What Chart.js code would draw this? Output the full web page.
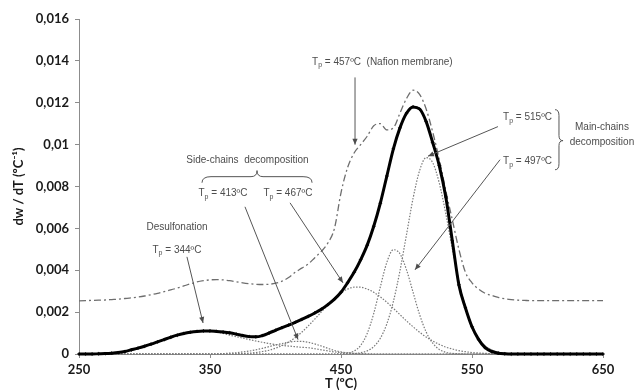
<!DOCTYPE html>
<html>
<head>
<meta charset="utf-8">
<script src="https://cdn.jsdelivr.net/npm/chart.js@4.4.0/dist/chart.umd.min.js"></script>
<style>
  html, body { margin: 0; padding: 0; background: #fff; }
  #wrap { width: 638px; height: 390px; position: relative; }
</style>
</head>
<body>
<div id="wrap"><canvas id="dtgChart"></canvas></div>
<script>
// temperature (ºC), 5 degree steps
const temps = [
    250, 255, 260, 265, 270, 275, 280, 285, 290, 295,
    300, 305, 310, 315, 320, 325, 330, 335, 340, 345,
    350, 355, 360, 365, 370, 375, 380, 385, 390, 395,
    400, 405, 410, 415, 420, 425, 430, 435, 440, 445,
    450, 455, 460, 465, 470, 475, 480, 485, 490, 495,
    500, 505, 510, 515, 520, 525, 530, 535, 540, 545,
    550, 555, 560, 565, 570, 575, 580, 585, 590, 595,
    600, 605, 610, 615, 620, 625, 630, 635, 640, 645,
    650
];

// measured dw/dT of the composite membrane
const measured = [
    0, 0, 0, 0.00001, 0.00002, 0.00004, 0.00007, 0.00012, 0.0002, 0.00028,
    0.00037, 0.00047, 0.00058, 0.00069, 0.0008, 0.0009, 0.00098, 0.00104, 0.00108, 0.0011,
    0.0011, 0.00108, 0.00105, 0.00101, 0.00095, 0.00088, 0.00083, 0.00082, 0.00088, 0.001,
    0.00113, 0.00126, 0.00138, 0.00151, 0.00165, 0.0018, 0.00196, 0.00214, 0.00236, 0.00262,
    0.00295, 0.0034, 0.0039, 0.0045, 0.0052, 0.0061, 0.0072, 0.0085, 0.0098, 0.0108,
    0.0115, 0.0118, 0.0117, 0.0111, 0.0101, 0.009, 0.0075, 0.0054, 0.0033, 0.0022,
    0.0013, 0.0007, 0.0003, 0.00012, 0.00004, 0.00001, 0, 0, 0, 0,
    0, 0, 0, 0, 0, 0, 0, 0, 0, 0,
    0
];

// sum of the fitted peaks
const fitted = [
    0, 0, 0, 0.00001, 0.00002, 0.00004, 0.00007, 0.00012, 0.0002, 0.00028,
    0.00037, 0.00047, 0.00058, 0.00069, 0.0008, 0.0009, 0.00098, 0.00104, 0.00108, 0.0011,
    0.0011, 0.00108, 0.00105, 0.00101, 0.00095, 0.00088, 0.00083, 0.00082, 0.00088, 0.001,
    0.00113, 0.00126, 0.00138, 0.00151, 0.00165, 0.0018, 0.00196, 0.00214, 0.00236, 0.00262,
    0.00295, 0.0034, 0.0039, 0.0045, 0.0052, 0.0061, 0.0072, 0.0085, 0.0098, 0.0108,
    0.0115, 0.0118, 0.0117, 0.0111, 0.0101, 0.009, 0.0075, 0.0054, 0.0034, 0.0023,
    0.00135, 0.00075, 0.0004, 0.0002, 0.00009, 0.00004, 0.00001, 0, 0, 0,
    0, 0, 0, 0, 0, 0, 0, 0, 0, 0,
    0
];

// plain Nafion membrane
const nafion = [
    0.00254, 0.00255, 0.00256, 0.00257, 0.00258, 0.0026, 0.00262, 0.00265, 0.00268, 0.00272,
    0.00277, 0.00283, 0.0029, 0.00298, 0.00306, 0.00315, 0.00325, 0.00335, 0.00344, 0.0035,
    0.00354, 0.00355, 0.00354, 0.0035, 0.00345, 0.0034, 0.00336, 0.00333, 0.00332, 0.00333,
    0.00338, 0.00348, 0.00365, 0.0039, 0.0041, 0.0043, 0.0046, 0.0049, 0.0053, 0.006,
    0.0077, 0.0089, 0.0096, 0.01, 0.0104, 0.0109, 0.011, 0.0107, 0.0108, 0.0115,
    0.0122, 0.0126, 0.0124, 0.0117, 0.0106, 0.0093, 0.0078, 0.0064, 0.005, 0.0039,
    0.0034, 0.0031, 0.0029, 0.0028, 0.0027, 0.00264, 0.0026, 0.00257, 0.00256, 0.00255,
    0.00255, 0.00255, 0.00255, 0.00255, 0.00255, 0.00255, 0.00255, 0.00255, 0.00255, 0.00255,
    0.00255
];

// deconvoluted peaks
const peak344 = [
    0, 0, 0, 0.00001, 0.00002, 0.00004, 0.00007, 0.00012, 0.0002, 0.00028,
    0.00037, 0.00047, 0.00058, 0.00069, 0.0008, 0.0009, 0.00098, 0.00104, 0.00108, 0.0011,
    0.00109, 0.00105, 0.00098, 0.0009, 0.00083, 0.00076, 0.00069, 0.00062, 0.00056, 0.0005,
    0.00045, 0.00041, 0.00038, 0.00035, 0.00032, 0.0003, 0.00025, 0.0002, 0.00015, 0.0001,
    0.00007, 0.00005, 0.00003, 0.00002, 0.00001, 0, 0, 0, 0, 0,
    0, 0, 0, 0, 0, 0, 0, 0, 0, 0,
    0, 0, 0, 0, 0, 0, 0, 0, 0, 0,
    0, 0, 0, 0, 0, 0, 0, 0, 0, 0,
    0
];

const peak413 = [
    0, 0, 0, 0, 0, 0, 0, 0, 0, 0,
    0, 0, 0, 0, 0, 0, 0, 0, 0, 0,
    0, 0, 0.00002, 0.00004, 0.00006, 0.0001, 0.00014, 0.0002, 0.00027, 0.00035,
    0.00043, 0.0005, 0.00056, 0.0006, 0.0006, 0.00056, 0.00048, 0.00038, 0.00027, 0.00017,
    0.0001, 0.00005, 0.00002, 0.00001, 0, 0, 0, 0, 0, 0,
    0, 0, 0, 0, 0, 0, 0, 0, 0, 0,
    0, 0, 0, 0, 0, 0, 0, 0, 0, 0,
    0, 0, 0, 0, 0, 0, 0, 0, 0, 0,
    0
];

const peak467 = [
    0, 0, 0, 0, 0, 0, 0, 0, 0, 0,
    0, 0, 0, 0, 0, 0, 0, 0, 0, 0,
    0, 0, 0, 0, 0.00001, 0.00003, 0.00004, 0.00007, 0.00012, 0.00018,
    0.00028, 0.0004, 0.00057, 0.00078, 0.00104, 0.00134, 0.00167, 0.00201, 0.00235, 0.00266,
    0.00292, 0.0031, 0.00319, 0.00319, 0.0031, 0.00295, 0.00273, 0.00247, 0.00218, 0.00188,
    0.00158, 0.0013, 0.00104, 0.00081, 0.00062, 0.00046, 0.00033, 0.00024, 0.00016, 0.00011,
    0.00007, 0.00005, 0.00003, 0.00002, 0.00001, 0, 0, 0, 0, 0,
    0, 0, 0, 0, 0, 0, 0, 0, 0, 0,
    0
];

const peak497 = [
    0, 0, 0, 0, 0, 0, 0, 0, 0, 0,
    0, 0, 0, 0, 0, 0, 0, 0, 0, 0,
    0, 0, 0, 0, 0, 0, 0, 0, 0, 0,
    0, 0, 0, 0, 0, 0, 0, 0, 0, 0,
    0.00001, 0.00004, 0.00014, 0.00041, 0.00098, 0.00194, 0.0032, 0.00438, 0.00498, 0.00479,
    0.00402, 0.00295, 0.00188, 0.00105, 0.00052, 0.00022, 0.00008, 0.00003, 0.00001, 0,
    0, 0, 0, 0, 0, 0, 0, 0, 0, 0,
    0, 0, 0, 0, 0, 0, 0, 0, 0, 0,
    0
];

const peak515 = [
    0, 0, 0, 0, 0, 0, 0, 0, 0, 0,
    0, 0, 0, 0, 0, 0, 0, 0, 0, 0,
    0, 0, 0, 0, 0, 0, 0, 0, 0, 0,
    0, 0, 0, 0, 0, 0, 0, 0, 0, 0,
    0, 0, 0.00002, 0.00006, 0.00015, 0.00035, 0.00075, 0.00144, 0.00251, 0.00397,
    0.0057, 0.00743, 0.00876, 0.00938, 0.00914, 0.00817, 0.0067, 0.00503, 0.00347, 0.00219,
    0.00127, 0.00068, 0.00033, 0.00015, 0.00006, 0.00002, 0.00001, 0, 0, 0,
    0, 0, 0, 0, 0, 0, 0, 0, 0, 0,
    0
];

// axis ticks
const xTickValues = [250, 350, 450, 550, 650];
const yTickValues = [0, 0.002, 0.004, 0.006, 0.008, 0.01, 0.012, 0.014, 0.016];

const toPoints = (vals) => temps.map((t, i) => ({ x: t, y: vals[i] }));

const axisFont = { family: 'Lato, "Liberation Sans", sans-serif', size: 13, weight: 'bold' };
const noteFont = '10px "Liberation Sans", Arial, sans-serif';
const subFont = '7px "Liberation Sans", Arial, sans-serif';
const noteColor = '#4d4d4d';

// text and arrows, anchored in data units (ºC, dw/dT)
const plainNotes = [
    { text: 'Desulfonation', t: 324.8, v: 0.00607 },
    { text: 'Side-chains  decomposition', t: 378.6, v: 0.00927 },
    { text: 'Main-chains', t: 649.2, v: 0.01081 },
    { text: 'decomposition', t: 649.2, v: 0.0101 }
];
const tpNotes = [
    { temp: 344, t: 324.8, v: 0.00497, align: 'center' },
    { temp: 413, t: 359.9, v: 0.00766, align: 'center' },
    { temp: 467, t: 409.5, v: 0.00766, align: 'center' },
    { temp: 457, t: 427.9, v: 0.01392, align: 'left', suffix: '  (Nafion membrane)' },
    { temp: 515, t: 611.1, v: 0.01129, align: 'right' },
    { temp: 497, t: 611.1, v: 0.00919, align: 'right' }
];
const arrows = [
    { from: [332.4, 0.00464], to: [344.7, 0.00148] },
    { from: [376.7, 0.00703], to: [417.2, 0.00069] },
    { from: [411.1, 0.00722], to: [451.5, 0.0034] },
    { from: [460.7, 0.01321], to: [460.7, 0.0100] },
    { from: [569.8, 0.01086], to: [516.4, 0.00945] },
    { from: [571.4, 0.00928], to: [506.5, 0.00402] }
];
const sideBrace = { t1: 343.9, t2: 427.9, tm: 385.9, vEnd: 0.00818, vLine: 0.00847, vTip: 0.00876 };
const mainBrace = { tEnd: 613.4, tLine: 616.4, tTip: 619.5, vTop: 0.01167, vBot: 0.0088, vMid: 0.01019 };

function drawTp(ctx, note, x, y) {
    const rest = ' = ' + note.temp + 'ºC' + (note.suffix || '');
    ctx.font = noteFont;
    const wT = ctx.measureText('T').width;
    const wR = ctx.measureText(rest).width;
    ctx.font = subFont;
    const wP = ctx.measureText('p').width;
    const total = wT + wP + wR;
    let x0 = x - total / 2;
    if (note.align === 'right') x0 = x - total;
    if (note.align === 'left') x0 = x;
    ctx.textAlign = 'left';
    ctx.font = noteFont;
    ctx.fillText('T', x0, y);
    ctx.font = subFont;
    ctx.fillText('p', x0 + wT, y + 3);
    ctx.font = noteFont;
    ctx.fillText(rest, x0 + wT + wP, y);
}

function drawArrow(ctx, x1, y1, x2, y2) {
    ctx.beginPath();
    ctx.moveTo(x1, y1);
    ctx.lineTo(x2, y2);
    ctx.stroke();
    const a = Math.atan2(y2 - y1, x2 - x1), L = 6, W = 2.6;
    ctx.beginPath();
    ctx.moveTo(x2, y2);
    ctx.lineTo(x2 - L * Math.cos(a) + W * Math.sin(a), y2 - L * Math.sin(a) - W * Math.cos(a));
    ctx.lineTo(x2 - L * Math.cos(a) - W * Math.sin(a), y2 - L * Math.sin(a) + W * Math.cos(a));
    ctx.closePath();
    ctx.fill();
}

const notesPlugin = {
    id: 'peakNotes',
    afterDatasetsDraw(chart) {
        const { ctx } = chart;
        const px = (t) => chart.scales.x.getPixelForValue(t);
        const py = (v) => chart.scales.y.getPixelForValue(v);
        ctx.save();
        ctx.fillStyle = noteColor;
        ctx.strokeStyle = '#555';
        ctx.lineWidth = 1;
        ctx.textBaseline = 'middle';

        ctx.font = noteFont;
        ctx.textAlign = 'center';
        plainNotes.forEach(n => ctx.fillText(n.text, px(n.t), py(n.v)));
        tpNotes.forEach(n => drawTp(ctx, n, px(n.t), py(n.v)));

        arrows.forEach(a => drawArrow(ctx, px(a.from[0]), py(a.from[1]), px(a.to[0]), py(a.to[1])));

        // brace over the side-chain labels
        const b = sideBrace;
        const x1 = px(b.t1), x2 = px(b.t2), xm = px(b.tm);
        const yE = py(b.vEnd), yL = py(b.vLine), yT = py(b.vTip);
        ctx.beginPath();
        ctx.moveTo(x1, yE);
        ctx.quadraticCurveTo(x1, yL, x1 + 9, yL);
        ctx.lineTo(xm - 6, yL);
        ctx.quadraticCurveTo(xm, yL, xm, yT);
        ctx.quadraticCurveTo(xm, yL, xm + 6, yL);
        ctx.lineTo(x2 - 9, yL);
        ctx.quadraticCurveTo(x2, yL, x2, yE);
        ctx.stroke();

        // brace beside the main-chain labels
        const m = mainBrace;
        const xe = px(m.tEnd), xl = px(m.tLine), xt = px(m.tTip);
        const yTop = py(m.vTop), yBot = py(m.vBot), yMid = py(m.vMid);
        ctx.beginPath();
        ctx.moveTo(xe, yTop);
        ctx.quadraticCurveTo(xl, yTop, xl, yTop + 6);
        ctx.lineTo(xl, yMid - 5);
        ctx.quadraticCurveTo(xl, yMid, xt, yMid);
        ctx.quadraticCurveTo(xl, yMid, xl, yMid + 5);
        ctx.lineTo(xl, yBot - 6);
        ctx.quadraticCurveTo(xl, yBot, xe, yBot);
        ctx.stroke();
        ctx.restore();
    }
};

const dotted = (vals) => ({
    data: toPoints(vals),
    borderColor: '#7a7a7a',
    borderWidth: 1.2,
    borderDash: [1.5, 1.5],
    pointRadius: 0,
    cubicInterpolationMode: 'monotone',
    clip: 3
});

// first dataset is painted on top, so the measured curve goes first
const ctx = document.getElementById('dtgChart').getContext('2d');
const dtgChart = new Chart(ctx, {
    type: 'line',
    data: {
        datasets: [
            {
                data: toPoints(measured),
                borderColor: '#000',
                backgroundColor: '#000',
                pointBackgroundColor: '#000',
                pointBorderColor: '#000',
                borderWidth: 3,
                pointRadius: 1.6,
                pointStyle: 'rectRot',
                pointBorderWidth: 0.5,
                cubicInterpolationMode: 'monotone',
                clip: 4
            },
            {
                data: toPoints(fitted),
                borderColor: '#777',
                borderWidth: 1,
                pointRadius: 0,
                cubicInterpolationMode: 'monotone',
                clip: 3
            },
            {
                data: toPoints(nafion),
                borderColor: '#6e6e6e',
                borderWidth: 1.3,
                borderDash: [7, 3, 2, 3],
                pointRadius: 0,
                cubicInterpolationMode: 'monotone'
            },
            dotted(peak344),
            dotted(peak413),
            dotted(peak467),
            dotted(peak497),
            dotted(peak515)
        ]
    },
    options: {
        responsive: true,
        maintainAspectRatio: false,
        animation: false,
        layout: {
            padding: { top: 19, right: 35, left: 0, bottom: 0 }
        },
        scales: {
            x: {
                type: 'linear',
                min: 250,
                max: 650,
                afterBuildTicks: (scale) => { scale.ticks = xTickValues.map(v => ({ value: v })); },
                afterFit: (scale) => { scale.height = 36; },
                grid: { drawOnChartArea: false, drawTicks: true, tickLength: 4, color: '#8c8c8c' },
                border: { color: '#8c8c8c', width: 1 },
                ticks: { color: '#1a1a1a', font: axisFont, padding: 4, maxRotation: 0 },
                title: {
                    display: true,
                    text: 'T (ºC)',
                    color: '#1a1a1a',
                    font: { ...axisFont, lineHeight: 0.9 },
                    padding: { top: 0, bottom: 0 }
                }
            },
            y: {
                min: 0,
                max: 0.016,
                afterBuildTicks: (scale) => { scale.ticks = yTickValues.map(v => ({ value: v })); },
                afterFit: (scale) => { scale.width = 79; },
                grid: { drawOnChartArea: false, drawTicks: true, tickLength: 4, color: '#8c8c8c' },
                border: { color: '#8c8c8c', width: 1 },
                ticks: {
                    color: '#1a1a1a',
                    font: axisFont,
                    padding: 6,
                    callback: (v) => String(Number(v.toFixed(3))).replace('.', ',')
                },
                title: {
                    display: true,
                    text: 'dw / dT (ºC⁻¹)',
                    color: '#1a1a1a',
                    font: axisFont,
                    padding: { top: 11, bottom: 0 }
                }
            }
        },
        plugins: {
            legend: { display: false },
            tooltip: { enabled: false }
        }
    },
    plugins: [notesPlugin]
});
</script>
</body>
</html>
